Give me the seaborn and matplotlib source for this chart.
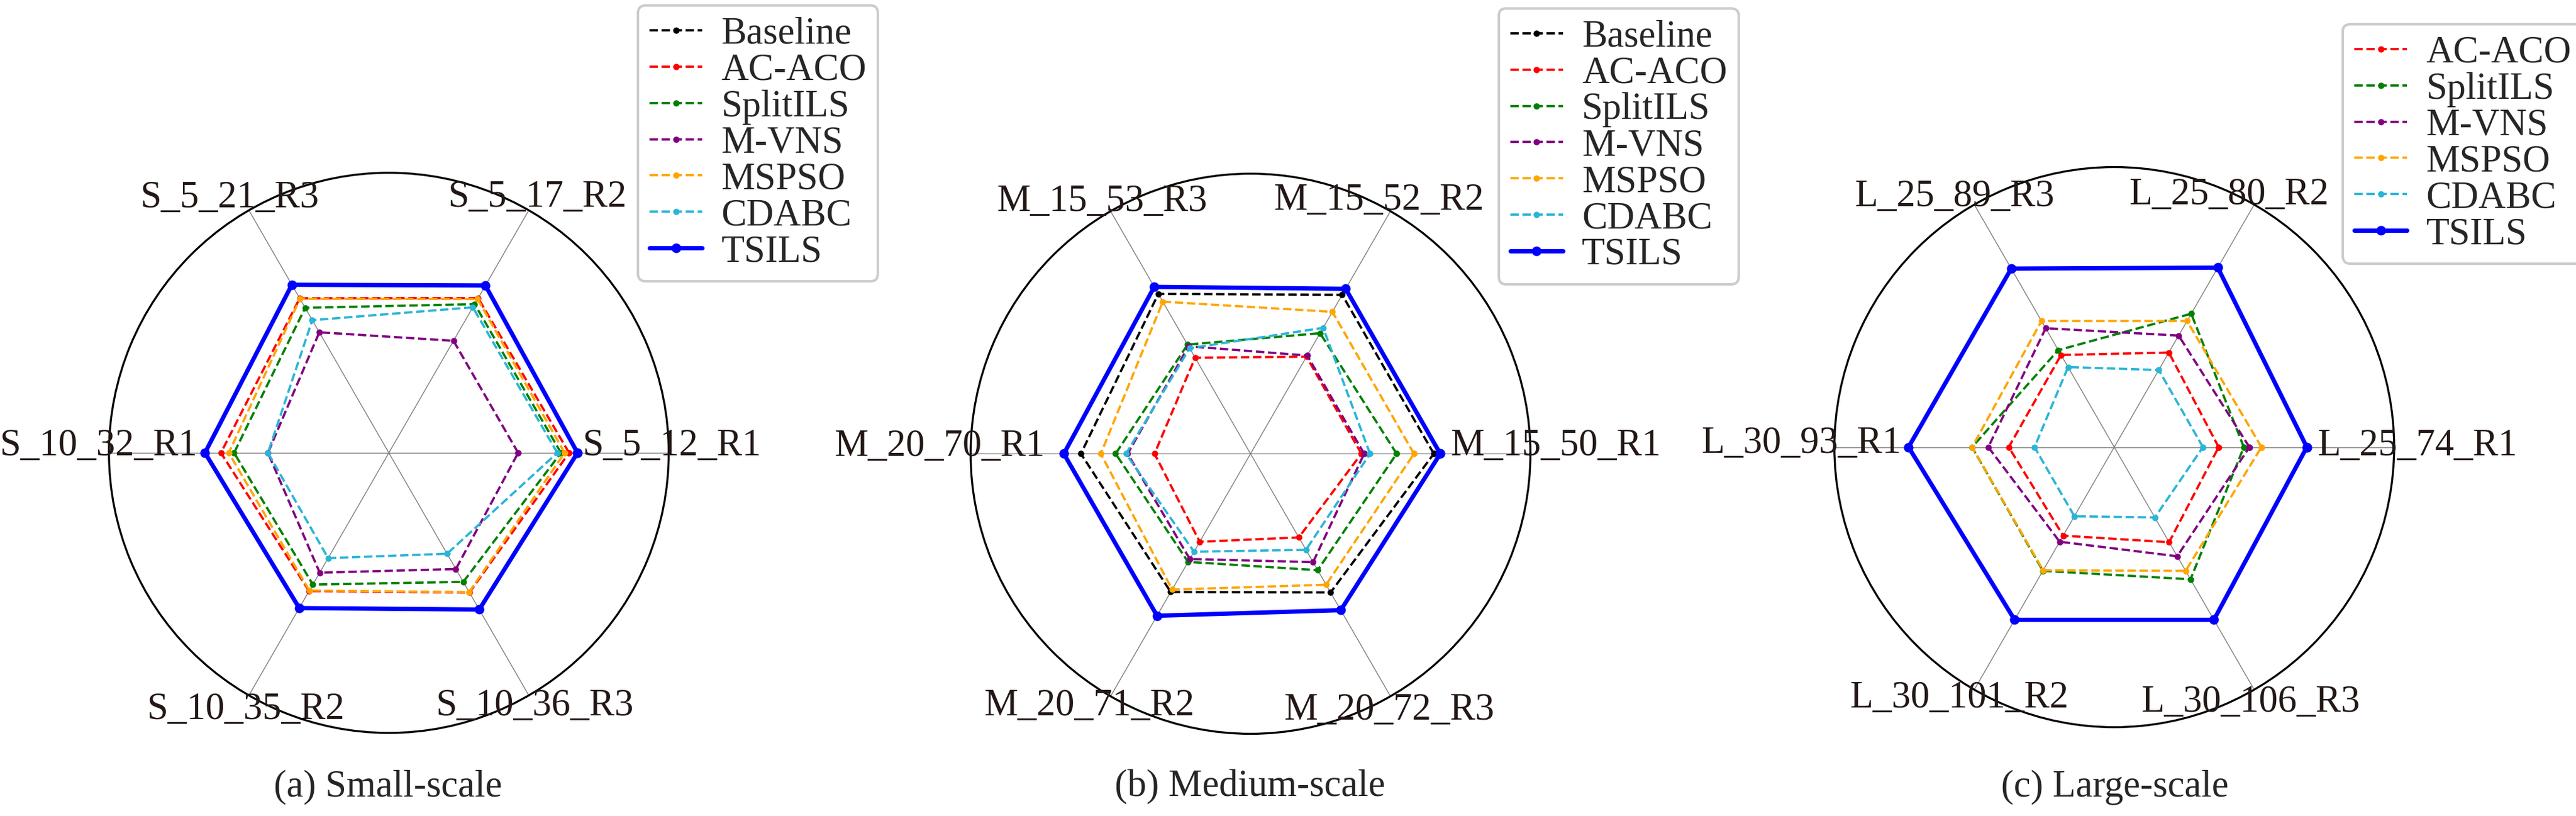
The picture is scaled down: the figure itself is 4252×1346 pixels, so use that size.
import numpy as np
import pandas as pd
import seaborn as sns
import matplotlib.pyplot as plt

# instance labels (counter-clockwise from the right)
small_labels = ["S_5_12_R1", "S_5_17_R2", "S_5_21_R3", "S_10_32_R1", "S_10_35_R2", "S_10_36_R3"]
medium_labels = ["M_15_50_R1", "M_15_52_R2", "M_15_53_R3", "M_20_70_R1", "M_20_71_R2", "M_20_72_R3"]
large_labels = ["L_25_74_R1", "L_25_80_R2", "L_25_89_R3", "L_30_93_R1", "L_30_101_R2", "L_30_106_R3"]

# small-scale scores
small_baseline = [0.674, 0.690, 0.693, 0.657, 0.640, 0.646]
small_acaco = [0.644, 0.638, 0.637, 0.600, 0.570, 0.576]
small_splitils = [0.615, 0.613, 0.598, 0.553, 0.543, 0.532]
small_mvns = [0.462, 0.462, 0.497, 0.432, 0.494, 0.479]
small_mspso = [0.628, 0.634, 0.635, 0.572, 0.568, 0.574]
small_cdabc = [0.602, 0.600, 0.547, 0.432, 0.434, 0.416]
small_tsils = [0.674, 0.690, 0.693, 0.657, 0.640, 0.646]

# medium-scale scores
medium_baseline = [0.655, 0.655, 0.659, 0.606, 0.570, 0.572]
medium_acaco = [0.396, 0.400, 0.396, 0.343, 0.363, 0.345]
medium_splitils = [0.522, 0.497, 0.450, 0.482, 0.446, 0.480]
medium_mvns = [0.406, 0.405, 0.443, 0.439, 0.434, 0.447]
medium_mspso = [0.584, 0.585, 0.627, 0.535, 0.560, 0.540]
medium_cdabc = [0.427, 0.519, 0.435, 0.445, 0.404, 0.396]
medium_tsils = [0.678, 0.680, 0.688, 0.667, 0.668, 0.645]

# large-scale scores (no baseline)
large_acaco = [0.373, 0.390, 0.380, 0.377, 0.365, 0.392]
large_splitils = [0.463, 0.550, 0.400, 0.508, 0.510, 0.545]
large_mvns = [0.483, 0.460, 0.490, 0.450, 0.390, 0.450]
large_mspso = [0.526, 0.520, 0.520, 0.508, 0.508, 0.510]
large_cdabc = [0.317, 0.318, 0.330, 0.285, 0.285, 0.290]
large_tsils = [0.688, 0.740, 0.736, 0.735, 0.712, 0.712]

# where the instance names sit (radius as fraction of the rim, angle in degrees)
small_label_r = [1.013, 1.055, 1.071, 1.037, 1.050, 1.044]
small_label_deg = [1.4, 59.7, 122.0, 178.7, 240.9, 300.0]
medium_label_r = [1.091, 1.013, 1.044, 1.111, 1.070, 1.042]
medium_label_deg = [1.4, 63.1, 120.6, 178.7, 237.4, 298.4]
large_label_r = [1.083, 0.989, 1.061, 1.118, 1.054, 1.034]
large_label_deg = [0.2, 65.5, 122.6, 179.4, 238.3, 298.1]

method_colors = {
    "Baseline": "black",
    "AC-ACO": "red",
    "SplitILS": "green",
    "M-VNS": "purple",
    "MSPSO": "orange",
    "CDABC": "#2ab5d6",
    "TSILS": "blue",
}

sns.set_theme(style="white")
plt.rcParams["font.family"] = ["Liberation Serif", "DejaVu Serif"]

FS = 15
fig = plt.figure(figsize=(4252 / 300, 1346 / 300), dpi=300)


def draw_panel(rect, labels, label_r, label_deg, series, legend_anchor, caption, caption_x):
    ax = fig.add_axes(rect, projection="polar")
    angles = np.linspace(0, 2 * np.pi, len(labels), endpoint=False)
    closed = np.append(angles, 2 * np.pi)
    for name, vals in series:
        df = pd.DataFrame({"theta": closed, "r": np.append(vals, vals[0])})
        if name == "TSILS":
            style = dict(linestyle="-", linewidth=1.7, markersize=3.8)
        else:
            style = dict(linestyle="--", linewidth=0.9, markersize=2.5)
        sns.lineplot(data=df, x="theta", y="r", sort=False, estimator=None,
                     ax=ax, color=method_colors[name], marker="o",
                     markeredgewidth=0, label=name, legend=False, **style)
    ax.set_xlabel("")
    ax.set_ylabel("")
    ax.set_ylim(0, 1)
    ax.set_yticks([])
    ax.set_xticks(angles)
    ax.set_xticklabels([])
    for lab, r, deg in zip(labels, label_r, label_deg):
        ax.text(np.deg2rad(deg), r, lab, ha="center", va="center",
                fontsize=FS, color="#231815")
    ax.xaxis.grid(True, color="gray", linewidth=0.35)
    ax.spines["polar"].set_color("black")
    ax.spines["polar"].set_linewidth(0.8)
    ax.legend(handles=ax.get_lines(), loc="upper left",
              bbox_to_anchor=legend_anchor, bbox_transform=fig.transFigure,
              borderaxespad=0, fontsize=FS, handlelength=1.4,
              handletextpad=0.5, labelspacing=0.03, borderpad=0.3,
              frameon=True, fancybox=True, edgecolor="0.8", framealpha=1)
    fig.text(caption_x, 0.035, caption, ha="center", va="center", fontsize=FS)
    return ax


draw_panel([0.0423, 0.1018, 0.2173, 0.6865], small_labels, small_label_r, small_label_deg,
           [("Baseline", small_baseline), ("AC-ACO", small_acaco),
            ("SplitILS", small_splitils), ("M-VNS", small_mvns),
            ("MSPSO", small_mspso), ("CDABC", small_cdabc),
            ("TSILS", small_tsils)],
           (0.2477, 0.9933), "(a) Small-scale", 0.1505)

draw_panel([0.3768, 0.1007, 0.2173, 0.6865], medium_labels, medium_label_r, medium_label_deg,
           [("Baseline", medium_baseline), ("AC-ACO", medium_acaco),
            ("SplitILS", medium_splitils), ("M-VNS", medium_mvns),
            ("MSPSO", medium_mspso), ("CDABC", medium_cdabc),
            ("TSILS", medium_tsils)],
           (0.5818, 0.9896), "(b) Medium-scale", 0.4852)

draw_panel([0.7121, 0.1088, 0.2173, 0.6865], large_labels, large_label_r, large_label_deg,
           [("AC-ACO", large_acaco), ("SplitILS", large_splitils),
            ("M-VNS", large_mvns), ("MSPSO", large_mspso),
            ("CDABC", large_cdabc), ("TSILS", large_tsils)],
           (0.9095, 0.9703), "(c) Large-scale", 0.8210)

fig.savefig("out.png", dpi=300)
